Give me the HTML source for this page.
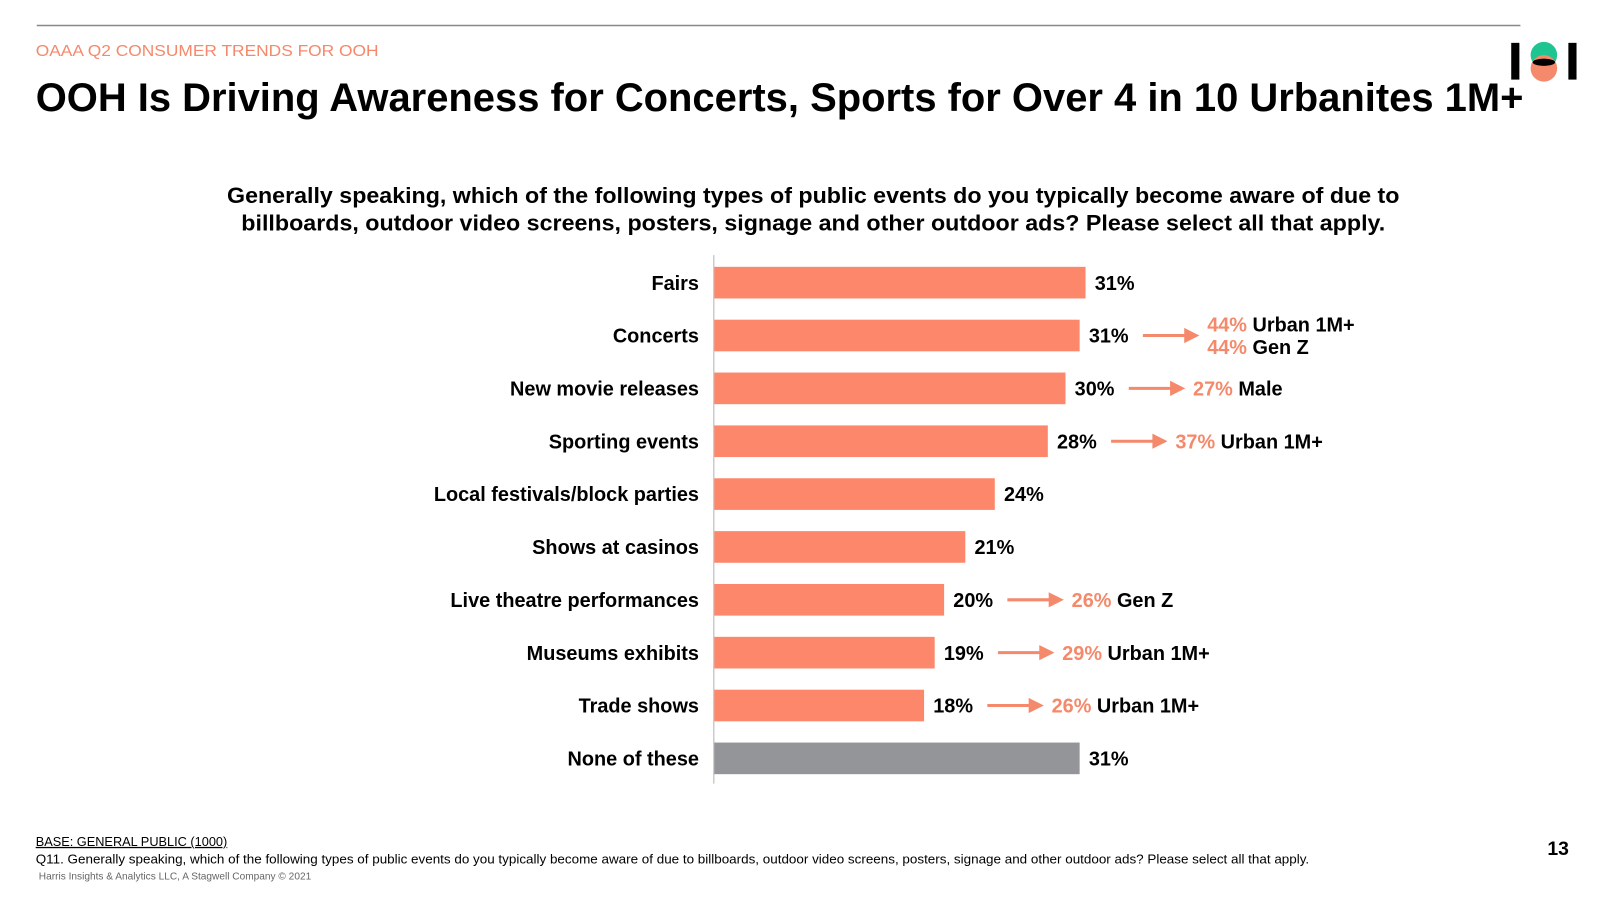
<!DOCTYPE html>
<html><head><meta charset="utf-8"><style>
body{margin:0;width:1600px;height:900px;background:#fff;font-family:"Liberation Sans",Arial,sans-serif;overflow:hidden}
svg{position:absolute;left:0;top:0}
</style></head><body>
<svg width="1600" height="900" viewBox="0 0 1568 882">
<line x1="36" y1="25" x2="1490" y2="25" stroke="#888" stroke-width="1.5"/>
<text x="35" y="55" font-size="15" fill="#f4896b" textLength="336" lengthAdjust="spacingAndGlyphs">OAAA Q2 CONSUMER TRENDS FOR OOH</text>
<text x="35" y="109" font-size="39" font-weight="bold" fill="#000" textLength="1458" lengthAdjust="spacingAndGlyphs">OOH Is Driving Awareness for Concerts, Sports for Over 4 in 10 Urbanites 1M+</text>
<g>
<circle cx="1513" cy="54" r="13" fill="#1fc590"/><circle cx="1513" cy="67" r="13" fill="#f4896b"/>
<ellipse cx="1513" cy="61" rx="11" ry="3.5" fill="#000"/>
<rect x="1481" y="42" width="8" height="36" fill="#000"/><rect x="1537" y="42" width="8" height="36" fill="#000"/>
</g>
<text x="797" y="199" font-size="22" font-weight="bold" text-anchor="middle" textLength="1149" lengthAdjust="spacingAndGlyphs">Generally speaking, which of the following types of public events do you typically become aware of due to</text>
<text x="797" y="226" font-size="22" font-weight="bold" text-anchor="middle" textLength="1121" lengthAdjust="spacingAndGlyphs">billboards, outdoor video screens, posters, signage and other outdoor ads? Please select all that apply.</text>
<line x1="699.5" y1="250" x2="699.5" y2="768" stroke="#ccc" stroke-width="1.5"/>
<g id="chart"></g>
<text x="35" y="829" font-size="12.5" text-decoration="underline">BASE: GENERAL PUBLIC (1000)</text>
<text x="35" y="846" font-size="13" textLength="1248" lengthAdjust="spacingAndGlyphs">Q11. Generally speaking, which of the following types of public events do you typically become aware of due to billboards, outdoor video screens, posters, signage and other outdoor ads? Please select all that apply.</text>
<text x="38" y="862" font-size="9.5" fill="#666" textLength="267" lengthAdjust="spacingAndGlyphs">Harris Insights &amp; Analytics LLC, A Stagwell Company © 2021</text>
<text x="1527" y="838" font-size="19" font-weight="bold" text-anchor="middle">13</text>
</svg>
<script>
const categories=["Fairs","Concerts","New movie releases","Sporting events","Local festivals/block parties","Shows at casinos","Live theatre performances","Museums exhibits","Trade shows","None of these"];
const values=[31.5,31,29.8,28.3,23.8,21.3,19.5,18.7,17.8,31];
const labels=["31%","31%","30%","28%","24%","21%","20%","19%","18%","31%"];
const calloutPct=[[],["44%","44%"],["27%"],["37%"],[],[],["26%"],["29%"],["26%"],[]];
const calloutText=[[],["Urban 1M+","Gen Z"],["Male"],["Urban 1M+"],[],[],["Gen Z"],["Urban 1M+"],["Urban 1M+"],[]];
const NS="http://www.w3.org/2000/svg";
const g=document.getElementById('chart');
const x=v=>700+v*11.55;
const y=i=>277+i*51.8;
function mk(t,a){const e=document.createElementNS(NS,t);for(const k in a)e.setAttribute(k,a[k]);g.appendChild(e);return e;}
categories.forEach((c,i)=>{
 const cy=y(i);
 const r=mk('rect',{x:700,y:cy-15.5,width:x(values[i])-700,height:31,fill:i==categories.length-1?'#939598':'#fd876a'});
 
 
 const t=mk('text',{x:685,y:cy+7,'font-size':19.5,'font-weight':'bold','text-anchor':'end'});t.textContent=c;
 
 
 const vx=x(values[i])+9;
 const vl=mk('text',{x:vx,y:cy+7,'font-size':19.5,'font-weight':'bold'});vl.textContent=labels[i];
 
 
 if(calloutPct[i].length){
  const ax=vx+53;
  const ln=mk('path',{d:`M${ax} ${cy} H${ax+42} M${ax+42} ${cy-5} L${ax+52} ${cy} L${ax+42} ${cy+5} Z`,stroke:'#f4896b','stroke-width':3,fill:'#f4896b'});
  
  
  const n=calloutPct[i].length;
  calloutPct[i].forEach((p,j)=>{
   const ty=cy+7+(n>1?(j-0.5)*22:0);
   const tt=mk('text',{x:ax+63,y:ty,'font-size':19.5,'font-weight':'bold'});
   tt.innerHTML=`<tspan fill="#f4896b">${p}</tspan> <tspan fill="#000">${calloutText[i][j]}</tspan>`;
   
   
  });
 }
});
</script>
</body></html>
